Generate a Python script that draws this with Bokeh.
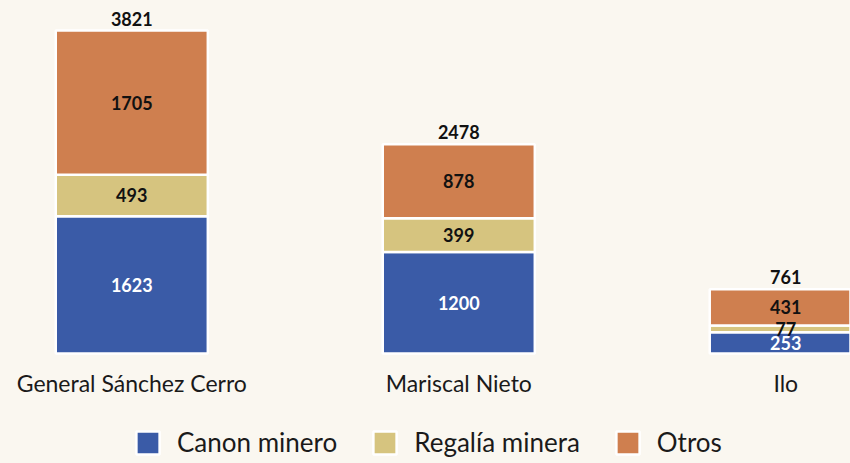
from bokeh.plotting import figure
from bokeh.models import ColumnDataSource, Range1d, Legend, LegendItem
from bokeh.core.properties import value
from bokeh.embed import file_html
from bokeh.resources import INLINE

categories = ["General Sánchez Cerro", "Mariscal Nieto", "Ilo"]
canon_minero = [1623, 1200, 253]
regalia_minera = [493, 399, 77]
otros = [1705, 878, 431]
totals = [3821, 2478, 761]
series_names = ["Canon minero", "Regalía minera", "Otros"]
colors = ["#3a5ba7", "#d6c47f", "#cf7f4f"]
label_colors = ["white", "#111111", "#111111"]
BG = "#faf7f0"
FONT = "Lato"

xs = list(range(len(categories)))
source = ColumnDataSource(dict(x=xs, canon=canon_minero, regalia=regalia_minera, otros=otros))

p = figure(width=850, height=463, output_backend="svg", toolbar_location=None,
           x_range=Range1d(-0.4015, 2.198), y_range=Range1d(-1301, 4176),
           min_border=0, outline_line_color=None,
           background_fill_color=BG, border_fill_color=BG)
p.axis.visible = False
p.grid.visible = False

renderers = p.vbar_stack(["canon", "regalia", "otros"], x="x", width=0.465, color=colors,
                         line_color="white", line_width=2.5, source=source)

# segment labels
lx, ly, lt, lc = [], [], [], []
for i in xs:
    base = 0
    for vals, col in zip([canon_minero, regalia_minera, otros], label_colors):
        v = vals[i]
        lx.append(i)
        ly.append(base + v / 2)
        lt.append(str(v))
        lc.append(col)
        base += v
seg_src = ColumnDataSource(dict(x=lx, y=ly, text=lt, color=lc))
p.text(x="x", y="y", text="text", text_color="color", source=seg_src,
       text_align="center", text_baseline="middle", text_font=value(FONT),
       text_font_style="bold", text_font_size="18px")

tot_src = ColumnDataSource(dict(x=xs, y=totals, text=[str(t) for t in totals]))
p.text(x="x", y="y", text="text", source=tot_src, text_color="#111111",
       text_align="center", text_baseline="bottom", y_offset=-5,
       text_font=value(FONT), text_font_style="bold", text_font_size="18px")

cat_src = ColumnDataSource(dict(x=xs, y=[0] * len(xs), text=categories))
p.text(x="x", y="y", text="text", source=cat_src, text_color="#1a1a1a",
       text_align="center", text_baseline="middle", y_offset=29,
       text_font=value(FONT), text_font_size="23px")

legend = Legend(items=[LegendItem(label=n, renderers=[r]) for n, r in zip(series_names, renderers)],
                orientation="horizontal", location=(133, 5),
                glyph_width=29, glyph_height=29, label_standoff=15, spacing=33,
                padding=0, margin=0, border_line_color=None, background_fill_alpha=0,
                label_text_font=FONT, label_text_font_size="26px", label_text_color="#1a1a1a")
p.add_layout(legend)

html = file_html(p, INLINE)
html = html.replace("<head>", "<head><style>html,body{background:%s;}</style>" % BG, 1)
open("out.html", "w").write(html)
